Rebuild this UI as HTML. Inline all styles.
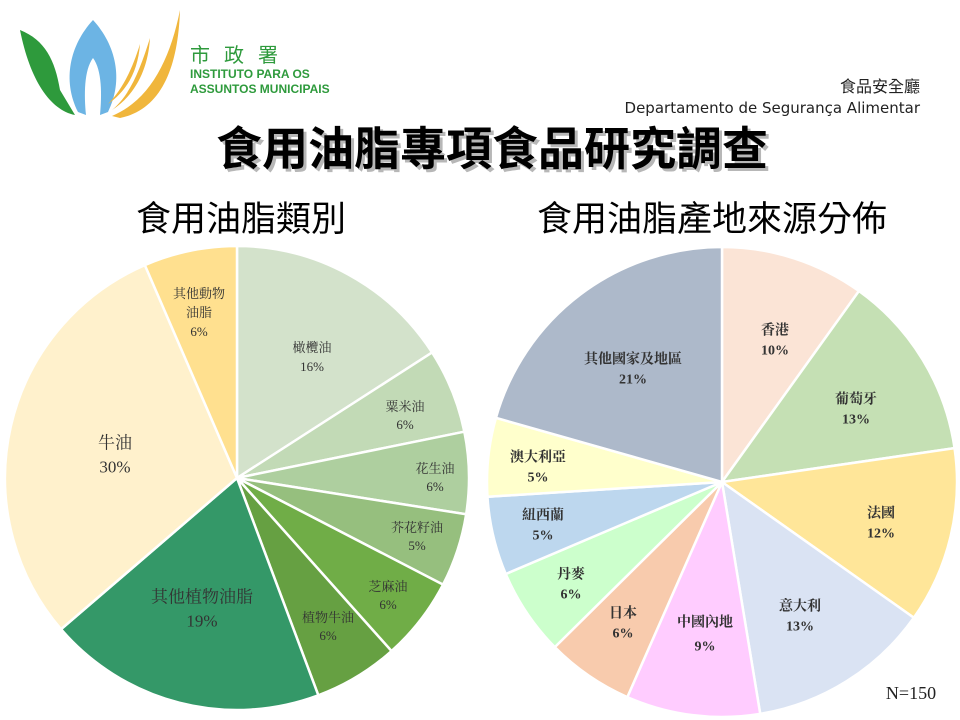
<!DOCTYPE html>
<html><head><meta charset="utf-8"><style>
html,body{margin:0;padding:0;background:#fff;}
svg{display:block}
</style></head><body>
<svg id="s" width="960" height="720" viewBox="0 0 960 720" xmlns="http://www.w3.org/2000/svg">
<rect width="960" height="720" fill="#fff"/>
<!-- logo -->
<path d="M20,30 C45,40 55,60 60,90 L75,115 C50,110 30,80 20,30Z" fill="#2e9a3c"/>
<path d="M93,20 C70,45 62,80 78,112 L86,115 C84,95 84,70 93,58 C102,70 102,95 100,115 L108,112 C124,80 116,45 93,20Z" fill="#6cb4e4"/>
<path d="M180,10 C170,60 150,100 112,116 L120,118 C160,110 178,70 180,10Z" fill="#f0b63c"/>
<path d="M150,38 C140,70 130,95 112,110 C135,95 148,70 150,38Z" fill="#f0b63c"/>
<path d="M140,44 C132,70 122,90 108,104 C128,90 138,70 140,44Z" fill="#f0b63c"/>
<text x="190" y="62" font-family="Liberation Sans, Noto Sans CJK TC, sans-serif" font-size="20" fill="#2e9a3c" letter-spacing="14">市政署</text>
<text x="190" y="78" font-family="Liberation Sans, sans-serif" font-size="12" font-weight="bold" fill="#2e9a3c">INSTITUTO PARA OS</text>
<text x="190" y="93" font-family="Liberation Sans, sans-serif" font-size="12" font-weight="bold" fill="#2e9a3c">ASSUNTOS MUNICIPAIS</text>
<text x="920" y="92" text-anchor="end" font-family="Liberation Sans, Noto Sans CJK TC, sans-serif" font-size="16" fill="#222">食品安全廳</text>
<text x="920" y="113" text-anchor="end" font-family="DejaVu Sans, sans-serif" font-size="15" fill="#222">Departamento de Segurança Alimentar</text>
<text x="492" y="165" text-anchor="middle" font-family="Liberation Sans, Noto Sans CJK TC, sans-serif" font-size="46" font-weight="bold" fill="#888" opacity="0.6" transform="translate(3,3)">食用油脂專項食品研究調查</text>
<text x="492" y="165" text-anchor="middle" font-family="Liberation Sans, Noto Sans CJK TC, sans-serif" font-size="46" font-weight="bold" fill="#000">食用油脂專項食品研究調查</text>
<text x="241" y="231" text-anchor="middle" font-family="Liberation Sans, Noto Sans CJK TC, sans-serif" font-size="35" fill="#000">食用油脂類別</text>
<text x="712" y="231" text-anchor="middle" font-family="Liberation Sans, Noto Sans CJK TC, sans-serif" font-size="35" fill="#000">食用油脂產地來源分佈</text>
<g id="p1"></g><g id="p2"></g>
<g id="lab" font-family="Liberation Serif, Noto Serif CJK SC, serif" text-anchor="middle" fill="#333"></g>
<text x="911" y="699" text-anchor="middle" font-family="Liberation Serif, serif" font-size="18" fill="#222">N=150</text>
</svg>
<script>
function pie(g,cx,cy,r,data){
  var a=0,el=document.getElementById(g),h='';
  data.forEach(function(d){
    var a0=a*Math.PI/50,a1=(a+d[0])*Math.PI/50;a+=d[0];
    var x0=cx+r*Math.sin(a0),y0=cy-r*Math.cos(a0),x1=cx+r*Math.sin(a1),y1=cy-r*Math.cos(a1);
    h+='<path d="M'+cx+','+cy+' L'+x0+','+y0+' A'+r+','+r+' 0 '+(d[0]>50?1:0)+' 1 '+x1+','+y1+' Z" fill="'+d[1]+'" stroke="#fff" stroke-width="2.5"/>';
  });
  el.innerHTML=h;
}
pie('p1',237,478,232,[[15.9,'#d3e2cb'],[5.9,'#c2dab6'],[5.7,'#aecf9f'],[5.1,'#96bf7e'],[5.8,'#70ad47'],[5.9,'#66a042'],[19.4,'#349868'],[29.8,'#fff1cc'],[6.5,'#ffe08f']]);
pie('p2',722,482,235,[[9.9,'#fbe4d6'],[12.8,'#c5e0b4'],[12.1,'#ffe699'],[12.6,'#dae3f3'],[9.2,'#ffccff'],[6.0,'#f8cbad'],[6.0,'#ccffcc'],[5.4,'#bdd7ee'],[5.4,'#ffffcc'],[20.6,'#adb9ca']]);
var L=[
[199,[293,312,331],['其他動物','油脂','6%'],13,0],
[312,[347,366],['橄欖油','16%'],13,0],
[405,[406,424],['粟米油','6%'],13,0],
[435,[468,486],['花生油','6%'],13,0],
[417,[527,545],['芥花籽油','5%'],13,0],
[388,[586,604],['芝麻油','6%'],13,0],
[328,[617,635],['植物牛油','6%'],13,0],
[202,[596,620],['其他植物油脂','19%'],17,0],
[115,[442,466],['牛油','30%'],17,0],
[775,[329,349],['香港','10%'],14,1],
[856,[398,418],['葡萄牙','13%'],14,1],
[881,[512,532],['法國','12%'],14,1],
[800,[605,625],['意大利','13%'],14,1],
[705,[621,645],['中國內地','9%'],14,1],
[623,[612,632],['日本','6%'],14,1],
[571,[573,593],['丹麥','6%'],14,1],
[543,[514,534],['紐西蘭','5%'],14,1],
[538,[456,476],['澳大利亞','5%'],14,1],
[633,[358,378],['其他國家及地區','21%'],14,1]];
var h='';
L.forEach(function(l){l[2].forEach(function(t,i){
h+='<text x="'+l[0]+'" y="'+(l[1][i]+l[3]*0.38)+'" font-size="'+l[3]+'"'+(l[4]?' font-weight="bold"':'')+'>'+t+'</text>';});});
document.getElementById('lab').innerHTML=h;
</script>
</body></html>
